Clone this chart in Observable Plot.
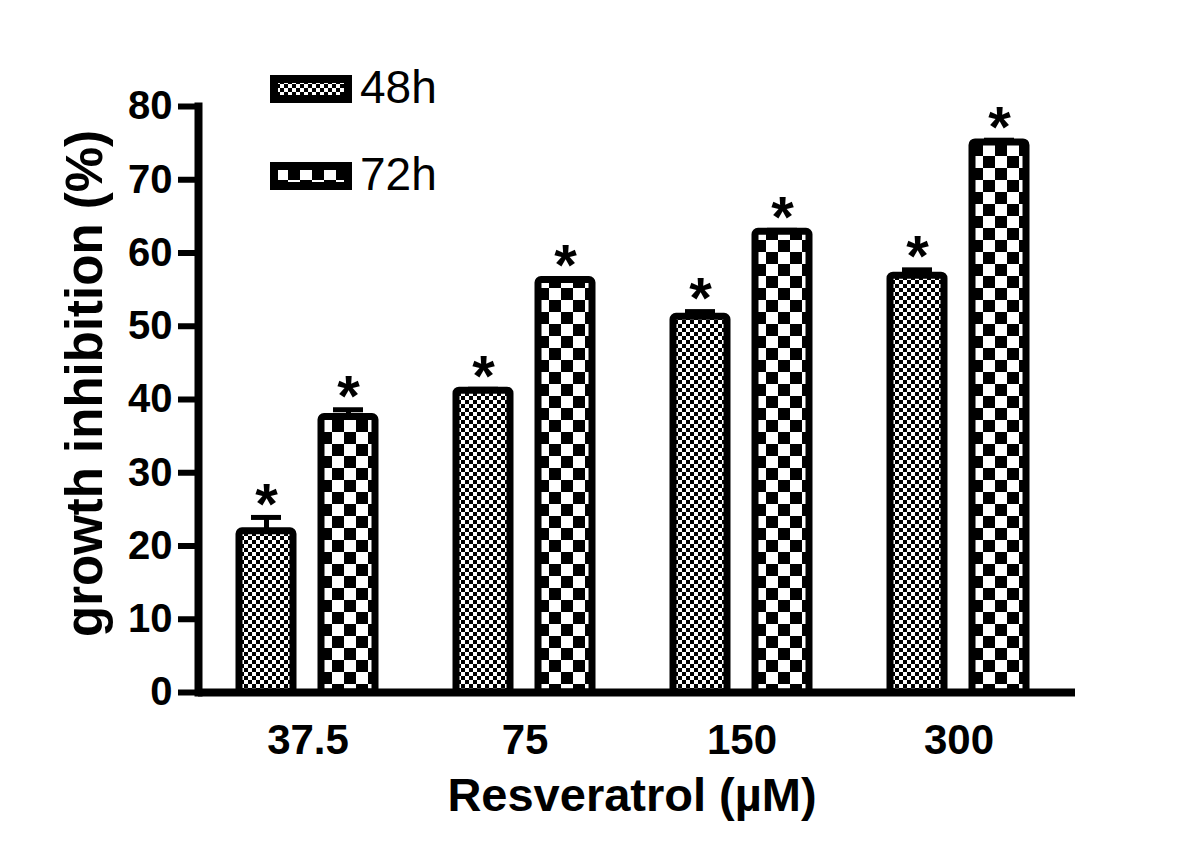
<!DOCTYPE html>
<html>
<head>
<meta charset="utf-8">
<script src="https://cdn.jsdelivr.net/npm/d3@7"></script>
<script src="https://cdn.jsdelivr.net/npm/@observablehq/plot@0.6"></script>
<style>
  html, body { margin: 0; padding: 0; background: white; }
  #wrap { position: relative; width: 1200px; height: 862px; font-family: "Liberation Sans", Arial, sans-serif; }
  #wrap > svg { position: absolute; left: 0; top: 0; }
</style>
</head>
<body>
<div id="wrap"></div>
<script>
// ---- data ----
const doses = ["37.5", "75", "150", "300"];
const series = ["48h", "72h"];
const inhibition48 = [22.0, 41.2, 51.3, 56.9];
const inhibition72 = [37.6, 56.3, 62.9, 75.1];
const sem48 = [1.9, 0.2, 0.7, 0.8];
const sem72 = [1.0, 0.2, 0.2, 0.3];
const yTicks = [0, 10, 20, 30, 40, 50, 60, 70, 80];
const yTitle = "growth inhibition (%)";
const xTitle = "Resveratrol (\u00b5M)";

const rows = [];
doses.forEach((d, i) => {
  rows.push({dose: d, series: "48h", value: inhibition48[i], err: sem48[i]});
  rows.push({dose: d, series: "72h", value: inhibition72[i], err: sem72[i]});
});
const patternId = {"48h": "p48", "72h": "p72"};

const wrap = document.getElementById("wrap");
const font = "'Liberation Sans', Arial, sans-serif";

// pattern definitions (shared document-wide)
const defsSvg = d3.select(wrap).append("svg").attr("width", 0).attr("height", 0);
const defs = defsSvg.append("defs");
function checker(id, c) {
  const p = defs.append("pattern").attr("id", id).attr("patternUnits", "userSpaceOnUse")
    .attr("width", 2 * c).attr("height", 2 * c);
  p.append("rect").attr("width", 2 * c).attr("height", 2 * c).attr("fill", "white");
  p.append("rect").attr("width", c).attr("height", c).attr("fill", "black");
  p.append("rect").attr("x", c).attr("y", c).attr("width", c).attr("height", c).attr("fill", "black");
}
checker("p48", 4);
checker("p72", 12);

const W = 1200, H = 862;
const mTop = 106, mBottom = 170, mRight = 125;

// Plot A: grouped bars (facets by dose)
const errTop = d => d.value + d.err;
const plotA = Plot.plot({
  width: W, height: H,
  marginTop: mTop, marginBottom: mBottom, marginLeft: 178, marginRight: mRight,
  style: {background: "transparent", fontFamily: font, color: "black"},
  fx: {domain: doses, paddingInner: 0.1, paddingOuter: 0.1168, align: 0.63, label: null},
  x: {domain: series, axis: null, paddingInner: 0.337, paddingOuter: 0.345},
  y: {domain: [0, 80], axis: null},
  marks: [
    ...series.map(s => Plot.barY(rows.filter(r => r.series === s), {
      fx: "dose", x: "series", y: "value",
      fill: `url(#${patternId[s]})`, stroke: "black", strokeWidth: 7, rx: 3
    })),
    Plot.ruleX(rows, {fx: "dose", x: "series", y1: "value", y2: errTop, stroke: "black", strokeWidth: 5}),
    Plot.tickY(rows, {fx: "dose", x: "series", y: errTop, stroke: "black", strokeWidth: 5, insetLeft: 12, insetRight: 12}),
    Plot.text(rows, {fx: "dose", x: "series", y: errTop, text: () => "*", fontSize: 58, fontWeight: "bold", dy: -12, fill: "black"}),
    Plot.axisFx({anchor: "bottom", tickSize: 0, tickPadding: 32, fontSize: 42, fontWeight: "bold", label: null})
  ]
});

// Plot B: axes lines, y ticks, titles
const plotB = Plot.plot({
  width: W, height: H,
  marginTop: mTop, marginBottom: mBottom, marginLeft: 198, marginRight: mRight,
  style: {background: "transparent", fontFamily: font, color: "black"},
  y: {domain: [0, 80]},
  marks: [
    Plot.frame({anchor: "left", stroke: "black", strokeWidth: 8}),
    Plot.ruleY([0], {stroke: "black", strokeWidth: 8}),
    Plot.axisY({ticks: yTicks, tickSize: 20, tickPadding: 6, strokeWidth: 6, fontSize: 40, fontWeight: "bold", label: null}),
    Plot.text([yTitle], {frameAnchor: "left", textAnchor: "middle", lineAnchor: "middle", rotate: -90, dx: -113, dy: -16, fontSize: 51, fontWeight: "bold", fill: "black"}),
    Plot.text([xTitle], {frameAnchor: "bottom", textAnchor: "middle", lineAnchor: "middle", dx: -5, dy: 103, fontSize: 47, fontWeight: "bold", fill: "black"})
  ]
});

wrap.appendChild(plotA);
wrap.appendChild(plotB);

// legend
const leg = d3.select(wrap).append("svg").attr("width", W).attr("height", H);
const legY = {"48h": 75, "72h": 162};
series.forEach(s => {
  const y0 = legY[s];
  leg.append("rect").attr("x", 274).attr("y", y0 + 4).attr("width", 74).attr("height", 20)
    .attr("fill", `url(#${patternId[s]})`).attr("stroke", "black").attr("stroke-width", 8);
  leg.append("text").attr("x", 360).attr("y", y0 + 28).attr("font-size", 46)
    .attr("font-family", font).attr("fill", "black").text(s);
});
</script>
</body>
</html>
